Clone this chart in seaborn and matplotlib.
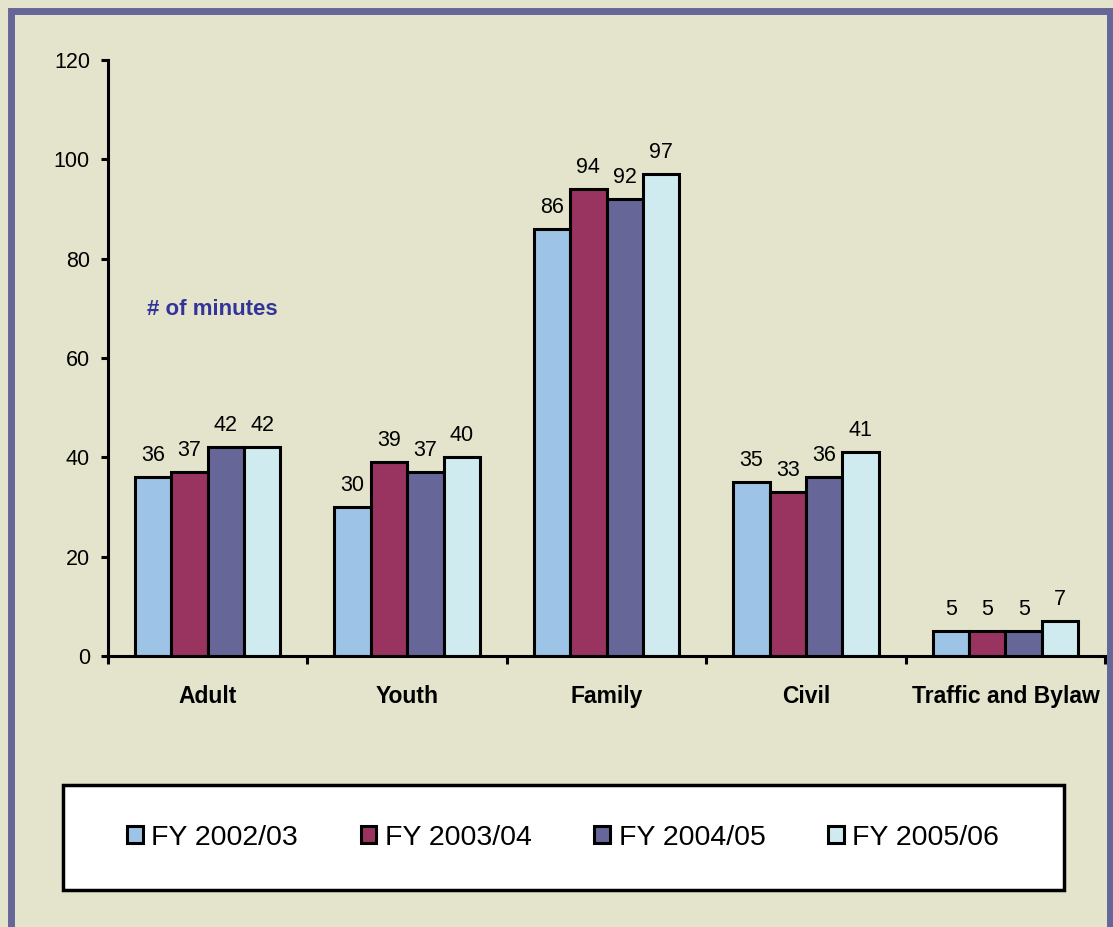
import matplotlib.pyplot as plt
import seaborn as sns
import pandas as pd
from matplotlib.patches import Rectangle

# data
categories = ['Adult', 'Youth', 'Family', 'Civil', 'Traffic and Bylaw']
years = ['FY 2002/03', 'FY 2003/04', 'FY 2004/05', 'FY 2005/06']
fy_0203 = [36, 30, 86, 35, 5]
fy_0304 = [37, 39, 94, 33, 5]
fy_0405 = [42, 37, 92, 36, 5]
fy_0506 = [42, 40, 97, 41, 7]
colors = ['#9DC3E6', '#993360', '#666699', '#CFEBF0']

rows = []
for year, vals in zip(years, [fy_0203, fy_0304, fy_0405, fy_0506]):
    for cat, v in zip(categories, vals):
        rows.append({'category': cat, 'year': year, 'minutes': v})
df = pd.DataFrame(rows)

sns.set_style('white')
plt.rcParams['font.family'] = ['Liberation Sans', 'DejaVu Sans']
plt.rcParams['text.color'] = 'black'
plt.rcParams['xtick.color'] = 'black'
plt.rcParams['ytick.color'] = 'black'

bg = '#E4E4CC'
fig = plt.figure(figsize=(11.13, 9.27), dpi=100, facecolor=bg)
ax = fig.add_axes([0.097, 0.2923, 0.896, 0.643])
ax.set_facecolor(bg)

sns.barplot(data=df, x='category', y='minutes', hue='year', order=categories,
            hue_order=years, palette=colors, saturation=1, width=0.73,
            edgecolor='black', linewidth=2.2, ax=ax)

for cont in ax.containers:
    ax.bar_label(cont, padding=8, fontsize=15.5, color='black')

ax.set_xlim(-0.5, 4.5)
ax.set_ylim(0, 120)
ax.set_yticks(range(0, 121, 20))
ax.set_xlabel('')
ax.set_ylabel('')
for s in ['top', 'right']:
    ax.spines[s].set_visible(False)
for s in ['left', 'bottom']:
    ax.spines[s].set_linewidth(2.2)
    ax.spines[s].set_color('black')

ax.tick_params(axis='y', direction='out', length=5, width=2.2, labelsize=15.5, pad=8, left=True)
ax.tick_params(axis='x', which='major', length=0, labelsize=16.5, pad=21)
ax.set_xticks([i - 0.5 for i in range(6)], minor=True)
ax.tick_params(axis='x', which='minor', direction='out', length=6, width=2.2, bottom=True)
for lab in ax.get_xticklabels():
    lab.set_fontweight('bold')

ax.text(0.039, 0.582, '# of minutes', transform=ax.transAxes, fontsize=16,
        fontweight='bold', color='#333399', va='center')

handles, labels = ax.get_legend_handles_labels()
ax.get_legend().remove()

# legend box
fig.patches.append(Rectangle((0.0566, 0.0399), 0.8994, 0.1133, transform=fig.transFigure,
                             facecolor='white', edgecolor='black', linewidth=2.5, zorder=1))
fig.legend(handles, labels, loc='center', bbox_to_anchor=(0.506, 0.0965), ncol=4,
           frameon=False, fontsize=20.5, handlelength=0.55, handleheight=0.55,
           handletextpad=0.3, columnspacing=2.2)

# outer purple border
fig.patches.append(Rectangle((0.0103, -0.1), 0.9867, 1.088, transform=fig.transFigure,
                             facecolor='none', edgecolor='#666699', linewidth=5, zorder=5))

fig.savefig('out.png', dpi=100, facecolor=bg)
